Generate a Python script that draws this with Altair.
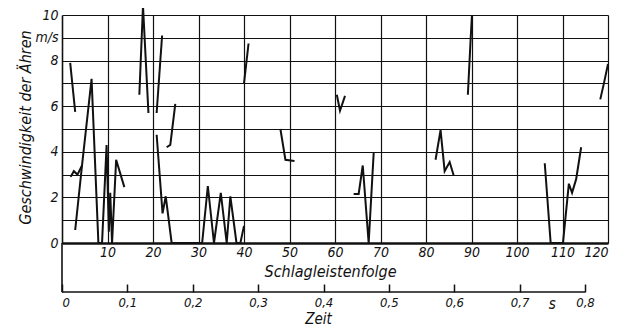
import altair as alt
import pandas as pd

# ---- data: blade index (Schlagleistenfolge) vs speed (m/s) ----
seg_a_x = [1.8, 2.9]
seg_a_y = [7.9, 5.75]
seg_b_x = [1.9, 2.6, 3.4, 4.4]
seg_b_y = [2.9, 3.15, 3.0, 3.4]
seg_c_x = [2.9, 4.4, 6.5, 8.0, 8.8, 9.8, 10.3, 10.6, 11.0, 11.9, 13.7]
seg_c_y = [0.57, 3.4, 7.2, 0.0, 0.0, 4.3, 0.5, 2.2, 0.0, 3.65, 2.45]
seg_d_x = [17.0, 17.8, 19.0]
seg_d_y = [6.5, 10.4, 5.7]
seg_e_x = [20.8, 22.0]
seg_e_y = [5.7, 9.1]
seg_f_x = [23.0, 23.8, 24.9]
seg_f_y = [4.2, 4.3, 6.1]
seg_g_x = [20.8, 22.1, 22.8, 24.1, 30.8, 32.05, 33.4, 34.9, 36.2, 37.0, 38.35, 39.2, 40.0]
seg_g_y = [4.75, 1.3, 2.05, 0.0, 0.0, 2.5, 0.0, 2.2, 0.0, 2.05, 0.0, 0.0, 0.75]
seg_h_x = [40.0, 41.0]
seg_h_y = [7.0, 8.75]
seg_i_x = [48.0, 49.1, 51.1]
seg_i_y = [5.0, 3.65, 3.6]
seg_j_x = [60.4, 61.1, 62.2]
seg_j_y = [6.5, 5.8, 6.45]
seg_k_x = [64.1, 65.2, 66.1, 67.4, 68.5]
seg_k_y = [2.15, 2.15, 3.4, 0.0, 3.95]
seg_l_x = [82.1, 83.2, 84.1, 85.2, 86.1]
seg_l_y = [3.65, 4.95, 3.15, 3.55, 2.95]
seg_m_x = [89.2, 89.8, 90.1]
seg_m_y = [6.5, 8.9, 10.0]
seg_n_x = [106.1, 107.4, 110.1, 111.4, 112.1, 113.0, 114.1]
seg_n_y = [3.5, 0.0, 0.0, 2.6, 2.2, 2.8, 4.2]
seg_o_x = [118.3, 119.1, 120.0]
seg_o_y = [6.3, 7.0, 7.85]

blade_ticks = list(range(10, 121, 10))
speed_ticks = list(range(0, 11))
zeit_ticks = [0, 0.1, 0.2, 0.3, 0.4, 0.5, 0.6, 0.7, 0.8]
zeit_end = 0.8
zeit_unit_pos = 0.75

segments = {
    "A": (seg_a_x, seg_a_y), "B": (seg_b_x, seg_b_y), "C": (seg_c_x, seg_c_y),
    "D": (seg_d_x, seg_d_y), "E": (seg_e_x, seg_e_y), "F": (seg_f_x, seg_f_y),
    "G": (seg_g_x, seg_g_y), "H": (seg_h_x, seg_h_y), "I": (seg_i_x, seg_i_y),
    "J": (seg_j_x, seg_j_y), "K": (seg_k_x, seg_k_y), "L": (seg_l_x, seg_l_y),
    "M": (seg_m_x, seg_m_y), "N": (seg_n_x, seg_n_y), "O": (seg_o_x, seg_o_y),
}
rows = []
for name, (xs, ys) in segments.items():
    for i, (xv, yv) in enumerate(zip(xs, ys)):
        rows.append({"seg": name, "i": i, "blade": xv, "speed": yv})
df = pd.DataFrame(rows)

W, H = 546, 228
ZEIT_OFFSET = 41
FONT = "Liberation Sans Narrow, DejaVu Sans Condensed, Liberation Sans, sans-serif"
INK = "#111111"

xscale = alt.Scale(domain=[0, 120], nice=False, zero=False)
yscale = alt.Scale(domain=[0, 10], nice=False)

x_axis = alt.Axis(
    values=blade_ticks, grid=True, gridColor=INK, gridWidth=1.2, gridOpacity=1,
    ticks=False, domain=True, domainColor=INK, domainWidth=2.4,
    labelFont=FONT, labelFontStyle="italic", labelFontSize=14, labelColor=INK,
    labelPadding=2, labelOverlap=False,
    title="Schlagleistenfolge", titleFont=FONT, titleFontStyle="italic",
    titleFontWeight="normal", titleFontSize=16, titleColor=INK,
    titleX=268, titleY=20, titleAnchor="middle",
)
y_axis = alt.Axis(
    values=speed_ticks, grid=True, gridColor=INK, gridWidth=1.2, gridOpacity=1,
    ticks=False, domain=True, domainColor=INK, domainWidth=1.6,
    labelExpr="datum.value == 9 ? 'm/s' : (datum.value % 2 == 0 ? datum.label : '')",
    labelFont=FONT, labelFontStyle="italic", labelFontSize=14, labelColor=INK,
    labelPadding=4, labelOverlap=False,
    title="Geschwindigkeit der Ähren", titleFont=FONT, titleFontStyle="italic",
    titleFontWeight="normal", titleFontSize=16, titleColor=INK,
    titleX=-29, titleY=112, titleAngle=270,
)

lines = alt.Chart(df).mark_line(color=INK, strokeWidth=2).encode(
    x=alt.X("blade:Q", scale=xscale, axis=x_axis),
    y=alt.Y("speed:Q", scale=yscale, axis=y_axis),
    detail="seg:N",
    order="i:Q",
)

left_ext = alt.Chart(pd.DataFrame({"b": [0]})).mark_rule(color=INK, strokeWidth=1.6).encode(
    x=alt.X("b:Q", scale=xscale),
    y=alt.value(H),
    y2=alt.value(H + ZEIT_OFFSET + 8),
)

main = alt.layer(lines, left_ext)

zscale = alt.Scale(domain=[0, W / 653.75], nice=False, zero=False)
z_axis = alt.Axis(
    orient="bottom", offset=ZEIT_OFFSET, values=zeit_ticks, grid=False,
    domain=False, ticks=True, tickSize=8, tickColor=INK, tickWidth=1.5,
    labelExpr="datum.value == 0 ? '0' : replace(format(datum.value, '.1f'), '.', ',')",
    labelFont=FONT, labelFontStyle="italic", labelFontSize=13, labelColor=INK,
    labelPadding=4, labelOverlap=False,
    title="Zeit", titleFont=FONT, titleFontStyle="italic",
    titleFontWeight="normal", titleFontSize=15, titleColor=INK,
    titleX=256, titleY=27,
)
zeit_rule = alt.Chart(pd.DataFrame({"z0": [0.0], "z1": [zeit_end]})).mark_rule(
    color=INK, strokeWidth=1.5
).encode(
    x=alt.X("z0:Q", scale=zscale, axis=z_axis),
    x2="z1:Q",
    y=alt.value(H + ZEIT_OFFSET + 8),
)
zeit_unit = alt.Chart(pd.DataFrame({"z": [zeit_unit_pos], "t": ["s"]})).mark_text(
    font=FONT, fontStyle="italic", fontSize=15, color=INK, baseline="middle", align="center"
).encode(
    x=alt.X("z:Q", scale=zscale),
    y=alt.value(H + ZEIT_OFFSET + 20),
    text="t:N",
)
zeit = alt.layer(zeit_rule, zeit_unit)

chart = alt.layer(main, zeit).resolve_scale(x="independent").resolve_axis(x="independent").properties(
    width=W, height=H,
    autosize=alt.AutoSizeParams(type="none"),
    padding={"left": 54, "top": 7, "right": 13, "bottom": 85},
    background="white",
).configure_view(stroke=None)

chart.save("out.html", embed_options={"renderer": "svg", "actions": False})
